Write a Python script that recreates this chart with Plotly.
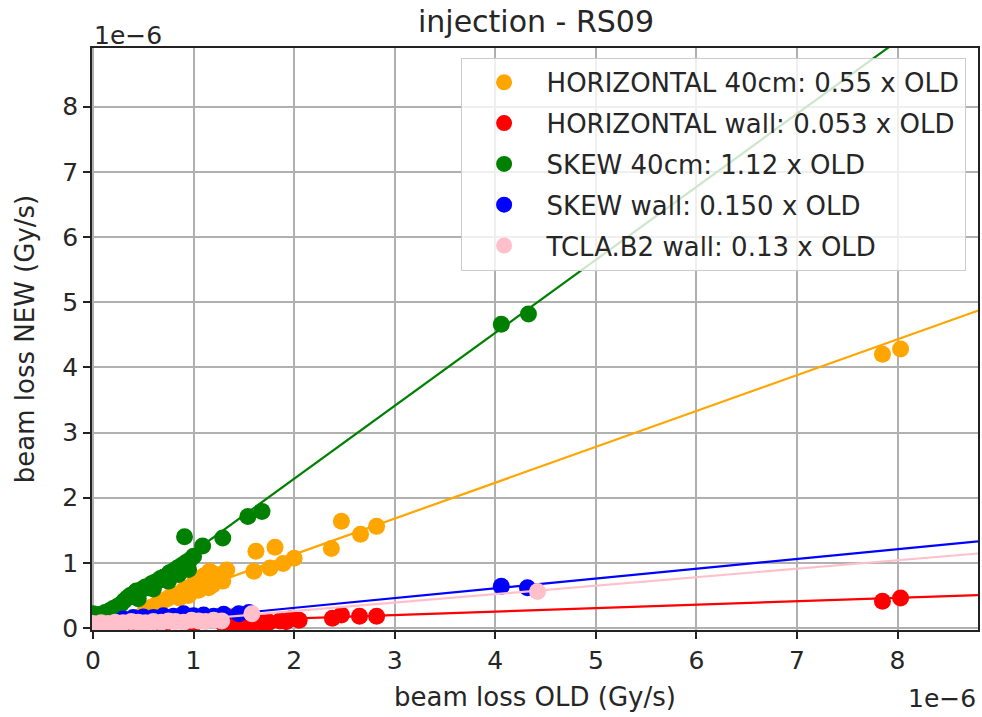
import plotly.graph_objects as go

# values in units of 1e-6 Gy/s
orange_x = [0.52, 0.58, 0.62, 0.66, 0.70, 0.74, 0.78, 0.82, 0.86, 0.90, 0.93, 0.97, 1.00, 1.04, 1.06,
            1.10, 1.13, 1.16, 1.19, 1.22, 1.25, 1.29, 1.33, 0.95, 1.05, 1.15,
            1.60, 1.62, 1.76, 1.81, 1.89, 2.00, 2.37, 2.47, 2.66, 2.82, 7.85, 8.03]
orange_y = [0.28, 0.32, 0.35, 0.38, 0.42, 0.45, 0.50, 0.52, 0.46, 0.58, 0.61, 0.62, 0.68, 0.72, 0.76,
            0.80, 0.70, 0.87, 0.66, 0.82, 0.78, 0.72, 0.89, 0.50, 0.58, 0.62,
            0.87, 1.18, 0.92, 1.24, 0.99, 1.07, 1.22, 1.64, 1.44, 1.56, 4.20, 4.28]

red_x = [0.40, 0.70, 1.00, 1.30, 1.37, 1.38, 1.45, 1.55, 1.62, 1.69, 1.75, 1.86, 1.92, 1.98, 2.05,
         2.38, 2.47, 2.65, 2.82, 7.85, 8.03]
red_y = [0.04, 0.05, 0.06, 0.06, 0.05, 0.17, 0.08, 0.07, 0.10, 0.08, 0.09, 0.11, 0.10, 0.15, 0.12,
         0.15, 0.20, 0.18, 0.18, 0.41, 0.46]

green_x = [0.00, 0.04, 0.08, 0.12, 0.16, 0.20, 0.24, 0.28, 0.31, 0.34, 0.37, 0.40, 0.43, 0.46, 0.49,
           0.52, 0.55, 0.58, 0.61, 0.64, 0.67, 0.70, 0.73, 0.76, 0.80, 0.84, 0.88, 0.92, 0.96, 1.00,
           0.45, 0.60, 0.75, 0.85, 0.95,
           0.91, 1.09, 1.29, 1.54, 1.68, 4.06, 4.33]
green_y = [0.22, 0.20, 0.21, 0.24, 0.26, 0.30, 0.33, 0.37, 0.42, 0.46, 0.50, 0.52, 0.57, 0.55, 0.60,
           0.63, 0.62, 0.68, 0.70, 0.72, 0.76, 0.78, 0.80, 0.85, 0.88, 0.92, 0.96, 1.00, 1.04, 1.10,
           0.45, 0.60, 0.72, 0.82, 0.90,
           1.40, 1.26, 1.38, 1.71, 1.79, 4.66, 4.82]

blue_x = [0.30, 0.40, 0.50, 0.60, 0.70, 0.80, 0.90, 1.00, 1.10, 1.20, 1.30, 1.45, 1.55, 4.06, 4.32]
blue_y = [0.14, 0.16, 0.17, 0.16, 0.19, 0.18, 0.22, 0.19, 0.20, 0.18, 0.21, 0.22, 0.24, 0.64, 0.62]

pink_x = [0.00, 0.08, 0.15, 0.22, 0.30, 0.38, 0.45, 0.52, 0.60, 0.68, 0.75, 0.82, 0.90, 0.98, 1.05,
          1.12, 1.20, 1.28, 1.58, 4.42]
pink_y = [0.07, 0.08, 0.07, 0.09, 0.08, 0.10, 0.09, 0.08, 0.10, 0.09, 0.11, 0.10, 0.09, 0.12, 0.11,
          0.10, 0.12, 0.11, 0.22, 0.56]

names = ["HORIZONTAL 40cm: 0.55 x OLD", "HORIZONTAL wall: 0.053 x OLD", "SKEW 40cm: 1.12 x OLD",
         "SKEW wall: 0.150 x OLD", "TCLA.B2 wall: 0.13 x OLD"]
colors = ["orange", "red", "green", "blue", "pink"]
slopes = [0.55, 0.053, 1.12, 0.150, 0.13]
intercepts = [0.03, 0.04, 0.05, 0.01, 0.0]
fit_x = [0.0, 9.5]
tick_vals = [0, 1, 2, 3, 4, 5, 6, 7, 8]

series = [(orange_x, orange_y), (red_x, red_y), (green_x, green_y), (blue_x, blue_y), (pink_x, pink_y)]

fig = go.Figure()
for i, ((xs, ys), name, col, m, b) in enumerate(zip(series, names, colors, slopes, intercepts)):
    fig.add_trace(go.Scatter(x=xs, y=ys, mode="markers", name=name, legendgroup=str(i),
                             marker=dict(color=col, size=17, line=dict(width=0))))
    fig.add_trace(go.Scatter(x=fit_x, y=[m * v + b for v in fit_x], mode="lines", showlegend=False,
                             line=dict(color=col, width=2.2), hoverinfo="skip"))

font = "DejaVu Sans"
tc = "#262626"
axis_common = dict(showgrid=True, gridcolor="#b0b0b0", gridwidth=1.5, zeroline=False,
                   showline=True, linecolor="#222", linewidth=1.5, mirror=True,
                   ticks="outside", ticklen=7, tickwidth=1.5, tickcolor="#222",
                   tickfont=dict(family=font, size=25, color=tc))

fig.update_layout(
    width=982, height=717,
    margin=dict(l=92, r=2, t=48, b=87),
    paper_bgcolor="white", plot_bgcolor="white",
    title=dict(text="injection - RS09", x=536 / 982, xanchor="center", y=1 - 21 / 717,
               yanchor="middle", font=dict(family=font, size=30, color=tc)),
    xaxis=dict(range=[-0.01, 8.8], tickvals=tick_vals,
               title=dict(text="beam loss OLD (Gy/s)", font=dict(family=font, size=26, color=tc), standoff=14),
               **axis_common),
    yaxis=dict(range=[-0.03, 8.9], tickvals=tick_vals,
               title=dict(text="beam loss NEW (Gy/s)", font=dict(family=font, size=26, color=tc), standoff=20),
               **axis_common),
    legend=dict(x=0.986, xanchor="right", y=0.983, yanchor="top",
                bgcolor="rgba(255,255,255,0.8)", bordercolor="#cccccc", borderwidth=1,
                font=dict(family=font, size=26, color=tc), tracegroupgap=4, itemwidth=75),
    annotations=[
        dict(text="1e\u22126", x=0, xref="paper", xanchor="left", y=1, yref="paper", yanchor="bottom",
             showarrow=False, font=dict(family=font, size=25, color=tc), yshift=-4),
        dict(text="1e\u22126", x=1, xref="paper", xanchor="right", y=0, yref="paper", yanchor="top",
             showarrow=False, font=dict(family=font, size=25, color=tc), yshift=-52),
    ],
)

fig.write_html("out.html")
